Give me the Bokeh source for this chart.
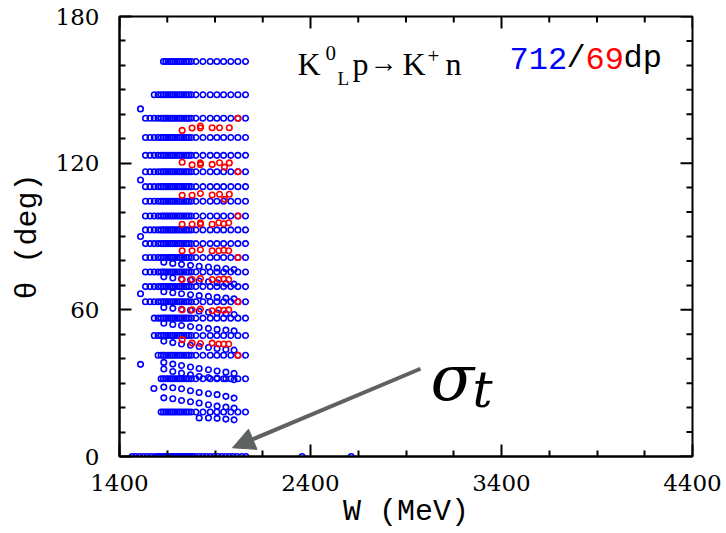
from bokeh.plotting import figure
from bokeh.models import FixedTicker, Label, Arrow, NormalHead
from bokeh.embed import file_html
from bokeh.resources import INLINE

# ---------------- data ----------------
# W columns (MeV) of the regular angular rows
W_cols = [1536, 1560, 1582, 1602, 1618, 1630, 1642, 1654, 1666, 1678, 1690, 1702,
          1714, 1726, 1738, 1750, 1762, 1776, 1800, 1837, 1875, 1910, 1945, 1983,
          2020, 2060]
# angles (deg) of the regular rows and the lowest W in each row
row_theta = [161.6, 148.0, 138.4, 130.5, 123.2, 116.5, 110.4, 104.4, 98.4, 92.7,
             87.1, 81.4, 75.5, 69.5, 63.3, 56.6, 49.5, 41.4, 31.8, 18.2]
row_wmin = [1620, 1575, 1536, 1536, 1527, 1536, 1536, 1536, 1536, 1536,
            1536, 1536, 1536, 1536, 1536, 1571, 1571, 1597, 1615, 1615]

# total cross section points (theta = 0)
sig_W = [1466, 1485, 1505, 1525, 1545, 1565, 1585, 1600, 1612, 1624, 1636, 1648,
         1660, 1672, 1684, 1696, 1708, 1720, 1732, 1744, 1756, 1768, 1780, 1795,
         1815, 1835, 1855, 1875, 1895, 1915, 1935, 1955, 1975, 1995, 2015, 2040,
         2062, 2356, 2613]

# isolated low-energy points
iso_W = [1510, 1510, 1510, 1510, 1510]
iso_theta = [142.2, 113.1, 90.0, 66.6, 37.7]

# sloping sequences in the forward hemisphere
stag_W = [1632, 1679, 1725, 1772, 1817, 1866, 1911, 1957, 2000]
stag_theta = [
    [79.5, 79.0, 78.6, 78.2, 77.8, 77.5, 77.1, 76.8, 76.5],
    [73.5, 73.0, 72.6, 72.2, 71.8, 71.5, 71.1, 70.8, 70.5],
    [67.4, 67.0, 66.6, 66.2, 65.8, 65.5, 65.1, 64.8, 64.5],
    [61.0, 60.6, 60.2, 59.8, 59.4, 59.0, 58.7, 58.4, 58.1],
    [54.5, 54.0, 53.6, 53.2, 52.8, 52.4, 52.0, 51.7, 51.4],
    [47.2, 46.6, 46.0, 45.5, 45.0, 44.6, 44.2, 43.8, 43.5],
    [38.5, 37.8, 37.2, 36.6, 36.0, 35.5, 35.0, 34.5, 34.0],
    [35.8, 34.8, 34.1, 33.4, 32.7, 32.3, 32.1, 31.8, 31.4],
    [28.4, 28.1, 27.7, 26.9, 26.2, 25.7, 25.3, 24.6, 23.9],
    [24.0, 23.6, 22.9, 22.4, 21.9, 21.2, 20.6, 20.2, 19.8],
]
stag2_W = [1580, 1817, 1866, 1911, 1957, 2000]
stag2_theta = [27.8, 15.8, 15.8, 15.6, 15.3, 15.0]

# red data
red_W = [1728, 1780, 1824, 1824, 1885, 1924, 1975,
         1728, 1780, 1824, 1824, 1885, 1924, 1950, 1975,
         1728, 1780, 1824, 1885, 1924, 1950, 1975,
         1728, 1780, 1824, 1824, 1885, 1920, 1946, 1972,
         1728, 1780, 1824, 1885, 1920, 1946, 1972,
         1728, 1780, 1824, 1885, 1920, 1946, 1972,
         1728, 1780, 1824, 1885, 1920, 1946, 1972,
         1728, 1780, 1824, 1885, 1920, 1946, 1972,
         2020, 2020, 2020, 2020, 2020, 2020]
red_theta = [133.4, 134.4, 135.2, 134.4, 134.5, 134.5, 134.5,
             120.4, 119.3, 120.1, 119.4, 119.5, 120.2, 118.4, 120.1,
             106.9, 106.9, 107.6, 107.0, 107.3, 105.2, 107.3,
             95.0, 95.0, 95.6, 95.0, 95.0, 95.6, 95.2, 95.6,
             84.2, 84.2, 84.6, 84.2, 84.2, 84.4, 84.2,
             72.4, 72.4, 72.8, 72.4, 72.4, 72.6, 72.4,
             60.0, 60.0, 60.3, 59.6, 60.0, 59.8, 60.0,
             47.8, 46.4, 46.2, 46.4, 46.0, 46.0, 46.0,
             138.4, 116.5, 98.4, 81.4, 63.3, 41.4]

# tick values
x_major = [1400, 2400, 3400, 4400]
x_minor = [1650, 1900, 2150, 2650, 2900, 3150, 3650, 3900, 4150]
y_major = [0, 60, 120, 180]
y_minor = [10, 20, 30, 40, 50, 70, 80, 90, 100, 110, 130, 140, 150, 160, 170]

# ---------------- build point lists ----------------
bx, by = [], []
for th, wmin in zip(row_theta, row_wmin):
    for w in W_cols:
        if w >= wmin:
            bx.append(w)
            by.append(th)
for w in sig_W:
    bx.append(w)
    by.append(0.0)
bx += iso_W
by += iso_theta
for seq in stag_theta:
    bx += stag_W
    by += seq
bx += stag2_W
by += stag2_theta

BLUE = "#0000ff"
RED = "#ff0000"
GRAY = "#5e6260"

p = figure(width=726, height=533, x_range=(1400, 4400), y_range=(0, 180),
           output_backend="svg", toolbar_location=None,
           min_border_left=119, min_border_right=34, min_border_top=16,
           min_border_bottom=77)
p.grid.visible = False
p.outline_line_color = "black"
p.outline_line_width = 2
p.background_fill_color = "white"
p.border_fill_color = "white"

p.scatter(bx, by, marker="circle", size=5.5, fill_color=None,
          line_color=BLUE, line_width=1.6)
p.scatter(red_W, red_theta, marker="circle", size=5.5, fill_color=None,
          line_color=RED, line_width=1.6)

xt = FixedTicker(ticks=x_major, minor_ticks=x_minor)
yt = FixedTicker(ticks=y_major, minor_ticks=y_minor)


def style(ax, ticker):
    ax.ticker = ticker
    ax.axis_line_color = "black"
    ax.axis_line_width = 2
    ax.major_tick_line_color = "black"
    ax.major_tick_line_width = 2
    ax.minor_tick_line_color = "black"
    ax.minor_tick_line_width = 2
    ax.major_tick_in = 12
    ax.major_tick_out = 0
    ax.minor_tick_in = 6
    ax.minor_tick_out = 0
    ax.major_label_text_font = "DejaVu Serif"
    ax.major_label_text_font_size = "23px"
    ax.major_label_text_color = "black"
    ax.axis_label_text_font = "Liberation Mono"
    ax.axis_label_text_font_size = "30px"
    ax.axis_label_text_font_style = "normal"
    ax.axis_label_text_color = "black"


style(p.xaxis[0], xt)
p.xaxis[0].axis_label = "W (MeV)"
p.xaxis[0].major_label_standoff = 18
p.xaxis[0].axis_label_standoff = 1
style(p.yaxis[0], yt)
p.yaxis[0].axis_label = "θ (deg)"
p.yaxis[0].major_label_standoff = 20
p.yaxis[0].axis_label_standoff = 8

# mirrored inward ticks on the top and right frame edges
p.ray(x=x_major, y=[180] * len(x_major), length=12, length_units="screen",
      angle=-90, angle_units="deg", line_color="black", line_width=2)
p.ray(x=x_minor, y=[180] * len(x_minor), length=6, length_units="screen",
      angle=-90, angle_units="deg", line_color="black", line_width=2)
p.ray(x=[4400] * len(y_major), y=y_major, length=12, length_units="screen",
      angle=180, angle_units="deg", line_color="black", line_width=2)
p.ray(x=[4400] * len(y_minor), y=y_minor, length=6, length_units="screen",
      angle=180, angle_units="deg", line_color="black", line_width=2)


# helpers: place annotations by pixel position inside the frame
def Wx(px):
    return 1400 + (px - 119) * 3000.0 / 573.0


def Ty(py):
    return (455.7 - py) * 180.0 / 439.7


def lab(px, py, text, font, size, color="black", style="normal"):
    p.add_layout(Label(x=Wx(px), y=Ty(py), text=text, text_font=font,
                       text_font_size=size, text_color=color,
                       text_font_style=style, text_baseline="alphabetic",
                       text_align="left"))


SERIF = "Liberation Serif"
lab(297, 63, "K", SERIF, "32px")
lab(325, 52, "0", SERIF, "21px")
lab(337, 78, "L", SERIF, "19px")
lab(352, 63, "p", SERIF, "32px")
lab(369, 62, "→", SERIF, "28px")
lab(402, 63, "K", SERIF, "32px")
lab(427, 55, "+", SERIF, "21px")
lab(445, 63, "n", SERIF, "32px")

MONO = "Liberation Mono"
lab(509, 58, "712", MONO, "32px", BLUE)
lab(566, 58, "/", MONO, "32px")
lab(585, 58, "69", MONO, "32px", RED)
lab(623, 58, "dp", MONO, "32px")

lab(430, 377, "σ", "DejaVu Serif", "64px", style="italic")
lab(472, 389, "t", "DejaVu Serif", "50px", style="italic")

p.add_layout(Arrow(end=NormalHead(size=22, fill_color=GRAY, line_color=GRAY),
                   x_start=Wx(420), y_start=Ty(368), x_end=Wx(232), y_end=Ty(447),
                   line_color=GRAY, line_width=4))

open("out.html", "w").write(file_html(p, INLINE))
